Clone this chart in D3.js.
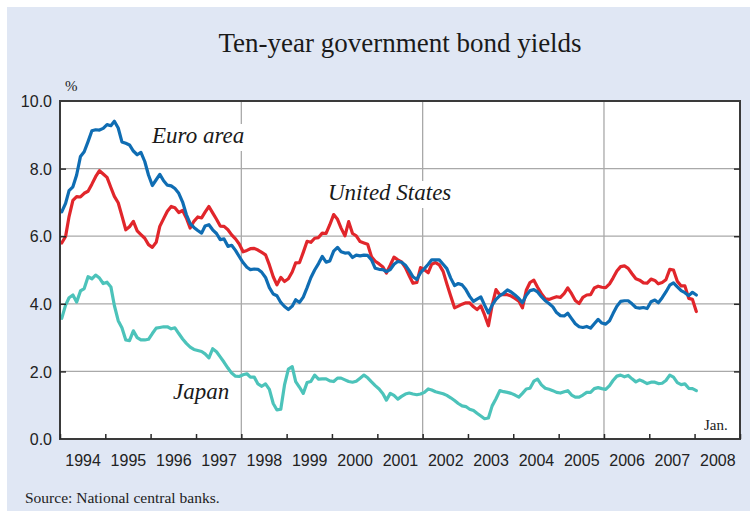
<!DOCTYPE html>
<html>
<head>
<meta charset="utf-8">
<script src="https://cdn.jsdelivr.net/npm/d3@7"></script>
<style>
  html, body { margin: 0; padding: 0; background: #ffffff; }
  svg { display: block; }
</style>
</head>
<body>
<svg id="chart" width="750" height="511"></svg>
<script>
// ---------------- data ----------------
const startYear = 1994;               // monthly observations, Jan 1994 - Jan 2008
const euroArea = [
  6.72,6.97,7.35,7.46,7.81,8.36,8.50,8.80,9.12,9.15,9.14,9.19,
  9.30,9.27,9.40,9.20,8.79,8.75,8.70,8.52,8.41,8.48,8.21,7.81,
  7.50,7.67,7.83,7.64,7.51,7.49,7.41,7.27,7.01,6.64,6.37,6.26,
  6.17,6.09,6.30,6.34,6.19,6.08,5.90,5.92,5.70,5.73,5.58,5.40,
  5.22,5.08,5.01,5.03,5.02,4.93,4.78,4.48,4.29,4.24,4.04,3.92,
  3.83,3.93,4.12,4.04,4.20,4.48,4.77,5.00,5.19,5.40,5.23,5.27,
  5.56,5.67,5.54,5.50,5.51,5.37,5.44,5.42,5.44,5.43,5.30,5.05,
  5.02,5.01,4.95,5.01,5.17,5.25,5.23,5.14,4.98,4.80,4.72,4.92,
  5.04,5.17,5.30,5.30,5.30,5.17,5.04,4.76,4.54,4.60,4.56,4.42,
  4.22,4.07,4.14,4.20,3.96,3.73,3.96,4.13,4.24,4.31,4.41,4.35,
  4.26,4.16,4.03,4.25,4.39,4.42,4.35,4.21,4.09,4.01,3.91,3.74,
  3.65,3.64,3.72,3.56,3.41,3.32,3.30,3.33,3.28,3.41,3.54,3.43,
  3.40,3.50,3.71,3.93,4.07,4.09,4.09,4.00,3.89,3.87,3.89,3.86,
  4.06,4.11,4.03,4.18,4.35,4.55,4.62,4.50,4.39,4.33,4.24,4.34,
  4.26
];
const unitedStates = [
  5.80,5.99,6.58,7.06,7.17,7.16,7.27,7.33,7.54,7.76,7.94,7.84,
  7.74,7.44,7.18,6.99,6.60,6.19,6.28,6.44,6.16,6.05,5.94,5.75,
  5.67,5.82,6.29,6.52,6.74,6.88,6.84,6.70,6.76,6.54,6.24,6.44,
  6.57,6.54,6.71,6.88,6.69,6.50,6.30,6.29,6.19,6.04,5.92,5.77,
  5.54,5.58,5.63,5.64,5.59,5.52,5.45,5.15,4.80,4.56,4.78,4.66,
  4.74,4.94,5.21,5.22,5.52,5.85,5.82,5.94,5.96,6.09,6.08,6.34,
  6.64,6.50,6.24,6.01,6.43,6.08,6.01,5.84,5.80,5.76,5.39,5.26,
  5.18,5.09,4.91,5.14,5.38,5.30,5.24,5.07,4.83,4.61,4.63,5.07,
  5.01,4.92,5.17,5.22,5.15,4.96,4.59,4.23,3.88,3.93,3.99,4.03,
  4.03,3.91,3.83,3.94,3.67,3.35,3.96,4.42,4.26,4.28,4.27,4.23,
  4.16,4.08,3.88,4.40,4.63,4.70,4.49,4.30,4.15,4.13,4.17,4.21,
  4.19,4.31,4.47,4.30,4.10,4.01,4.19,4.26,4.27,4.47,4.52,4.49,
  4.48,4.59,4.76,4.97,5.10,5.12,5.05,4.89,4.74,4.70,4.62,4.61,
  4.73,4.69,4.59,4.63,4.71,5.02,5.00,4.67,4.53,4.53,4.16,4.13,
  3.77
];
const japan = [
  3.57,3.96,4.18,4.26,4.05,4.38,4.45,4.80,4.74,4.85,4.76,4.60,
  4.64,4.50,3.95,3.50,3.29,2.93,2.91,3.20,3.00,2.93,2.93,2.95,
  3.12,3.28,3.30,3.32,3.32,3.26,3.29,3.12,2.96,2.83,2.72,2.65,
  2.62,2.59,2.52,2.40,2.67,2.58,2.43,2.27,2.10,1.95,1.86,1.85,
  1.90,1.93,1.83,1.83,1.63,1.56,1.63,1.47,1.05,0.86,0.88,1.60,
  2.07,2.14,1.70,1.53,1.35,1.67,1.70,1.89,1.77,1.78,1.78,1.72,
  1.70,1.80,1.80,1.75,1.70,1.68,1.71,1.80,1.89,1.81,1.69,1.58,
  1.48,1.34,1.15,1.35,1.29,1.18,1.26,1.33,1.36,1.33,1.31,1.33,
  1.38,1.48,1.45,1.40,1.37,1.34,1.29,1.22,1.14,1.05,0.98,0.96,
  0.88,0.84,0.76,0.68,0.60,0.62,0.98,1.19,1.43,1.40,1.38,1.35,
  1.30,1.24,1.35,1.48,1.50,1.71,1.77,1.60,1.50,1.47,1.43,1.38,
  1.36,1.40,1.43,1.30,1.24,1.24,1.30,1.38,1.38,1.49,1.52,1.49,
  1.47,1.58,1.73,1.86,1.89,1.84,1.88,1.78,1.69,1.75,1.70,1.64,
  1.68,1.68,1.64,1.65,1.73,1.89,1.83,1.67,1.61,1.63,1.50,1.49,
  1.43
];
const yearLabels = [1994,1995,1996,1997,1998,1999,2000,2001,2002,2003,2004,2005,2006,2007,2008];
const yTickValues = [0,2,4,6,8,10];
const gridYears = [1998,2002,2006];

// ---------------- layout ----------------
const svg = d3.select("#chart");
const L = 60, R = 740, T = 101, B = 439;
const serif = "'Liberation Serif','Times New Roman',serif";
const sans = "'Liberation Sans',Arial,sans-serif";

const x = d3.scaleTime().domain([new Date(1994,0,1), new Date(2009,0,1)]).range([L, R]);
const y = d3.scaleLinear().domain([0,10]).range([B, T]);

const toPoints = arr => arr.map((v,i) => ({date: new Date(startYear, i, 15), value: v}));

// background panel
svg.append("rect").attr("x",7).attr("y",7).attr("width",743).attr("height",504).attr("fill","#e0e7f4");
svg.append("rect").attr("x",L).attr("y",T).attr("width",R-L).attr("height",B-T).attr("fill","#ffffff");

// title
svg.append("text").attr("x",400).attr("y",52).attr("text-anchor","middle")
  .style("font-family",serif).style("font-size","27px").attr("fill","#1a1a1a")
  .text("Ten-year government bond yields");
svg.append("text").attr("x",65).attr("y",91)
  .style("font-family",serif).style("font-size","15px").attr("fill","#222").text("%");

// grid
const grid = svg.append("g").attr("stroke","#a9a9a9").attr("stroke-width",1.3);
grid.selectAll("line.h").data(yTickValues.filter(v => v>0 && v<10)).join("line")
  .attr("x1",L).attr("x2",R).attr("y1",d=>y(d)).attr("y2",d=>y(d));
grid.selectAll("line.v").data(gridYears).join("line")
  .attr("x1",d=>x(new Date(d,0,1))).attr("x2",d=>x(new Date(d,0,1))).attr("y1",T).attr("y2",B);

// series labels (white boxes cut the grid)
const labels = [
  {text:"Euro area", x:152, y:143},
  {text:"United States", x:328, y:200},
  {text:"Japan", x:173, y:399}
];
const labBg = svg.append("g");
const lineG = svg.append("g");
const labG = svg.append("g");
labels.forEach(l => {
  const t = labG.append("text").attr("x",l.x).attr("y",l.y)
    .style("font-family",serif).style("font-style","italic").style("font-size","23px")
    .attr("fill","#1a1a1a").text(l.text);
  const bb = t.node().getBBox();
  labBg.append("rect").attr("x",bb.x-2).attr("y",bb.y+1).attr("width",bb.width+4).attr("height",bb.height+2)
    .attr("fill","#ffffff");
});

// lines
const line = d3.line().x(d=>x(d.date)).y(d=>y(d.value));
const series = [
  {data: japan, color:"#4cc3ba"},
  {data: unitedStates, color:"#e1262b"},
  {data: euroArea, color:"#0f6db3"}
];
series.forEach(s => {
  lineG.append("path").datum(toPoints(s.data)).attr("d",line)
    .attr("fill","none").attr("stroke",s.color).attr("stroke-width",3.2)
    .attr("stroke-linejoin","round").attr("stroke-linecap","round");
});

// frame
svg.append("rect").attr("x",L).attr("y",T).attr("width",R-L).attr("height",B-T)
  .attr("fill","none").attr("stroke","#3a3a3a").attr("stroke-width",2);

// inner ticks (left, right, bottom)
const tickStyle = g => g.call(g => g.select(".domain").remove())
  .call(g => g.selectAll(".tick line").attr("stroke","#2a2a2a").attr("stroke-width",1.5));
svg.append("g").attr("transform",`translate(${L},0)`)
  .call(d3.axisLeft(y).tickValues([2,4,6,8]).tickSize(-6).tickFormat("")).call(tickStyle);
svg.append("g").attr("transform",`translate(${R},0)`)
  .call(d3.axisRight(y).tickValues([2,4,6,8]).tickSize(-6).tickFormat("")).call(tickStyle);
svg.append("g").attr("transform",`translate(0,${B})`)
  .call(d3.axisBottom(x).tickValues(yearLabels.map(yr=>new Date(yr,0,1)).concat([new Date(2009,0,1)]))
    .tickSize(-5).tickFormat("")).call(tickStyle);

// y labels
const yAx = svg.append("g").attr("transform",`translate(${L},0)`)
  .call(d3.axisLeft(y).tickValues(yTickValues).tickFormat(d3.format(".1f")).tickSize(0).tickPadding(8));
yAx.select(".domain").remove();
yAx.selectAll("text").style("font-family",sans).style("font-size","16px").attr("fill","#222").attr("dy","0.36em");

// x labels
const xAx = svg.append("g").attr("transform",`translate(0,${B})`)
  .call(d3.axisBottom(x).tickValues(yearLabels.map(yr=>new Date(yr,6,2))).tickFormat(d=>d.getFullYear())
    .tickSize(0).tickPadding(15.6));
xAx.select(".domain").remove();
xAx.selectAll("text").style("font-family",sans).style("font-size","16px").attr("fill","#222");

// Jan. note and source
svg.append("text").attr("x",704).attr("y",430)
  .style("font-family",serif).style("font-size","15px").attr("fill","#222").text("Jan.");
svg.append("text").attr("x",25).attr("y",503)
  .style("font-family",serif).style("font-size","15.5px").attr("fill","#222").text("Source: National central banks.");
</script>
</body>
</html>
